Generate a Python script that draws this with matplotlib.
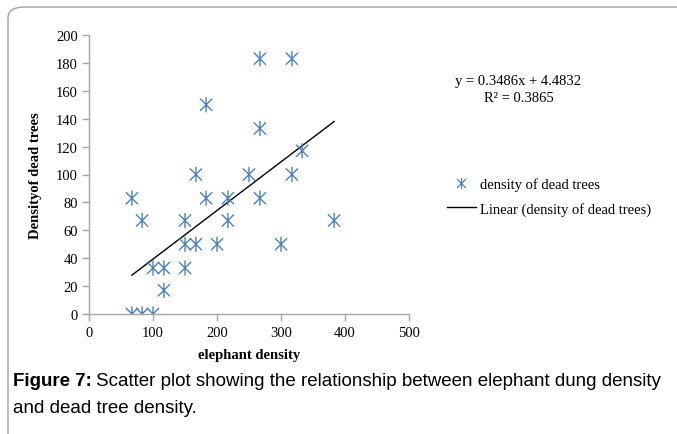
import numpy as np
import matplotlib
matplotlib.use('Agg')
from matplotlib import pyplot as plt
from matplotlib.path import Path
from matplotlib.lines import Line2D
from matplotlib.patches import FancyBboxPatch

# elephant density vs density of dead trees
elephant = [67, 83, 100, 67, 83, 100, 117, 117, 150, 150, 150, 167, 167, 183,
            183, 200, 217, 217, 250, 267, 267, 267, 300, 317, 317, 333, 383]
dead_trees = [0, 0, 0, 83, 67, 33, 33, 17, 67, 50, 33, 50, 100, 150,
              83, 50, 83, 67, 100, 183, 133, 83, 50, 183, 100, 117, 67]
slope, intercept = 0.3486, 4.4832
r2 = 0.3865

blue = '#4F81BD'
serif = 'Liberation Serif'
sans = 'Liberation Sans'

# star marker like excel (x plus vertical bar)
star = Path([(-1, -1), (1, 1), (-1, 1), (1, -1), (0, -1.25), (0, 1.25)],
            [Path.MOVETO, Path.LINETO, Path.MOVETO, Path.LINETO, Path.MOVETO, Path.LINETO])

fig = plt.figure(figsize=(6.77, 4.35), dpi=100)
ax = fig.add_axes([89 / 677, 1 - 315 / 435, 320 / 677, 279 / 435])

ax.scatter(elephant, dead_trees, marker=star, s=120, facecolors='none',
           edgecolors=blue, linewidths=1.0, zorder=3)

xs = np.array([min(elephant), max(elephant)])
ax.plot(xs, slope * xs + intercept, color='black', lw=1.0, zorder=2)

ax.set_xlim(0, 500)
ax.set_ylim(0, 200)
ax.set_xticks(range(0, 501, 100))
ax.set_yticks(range(0, 201, 20))
for s in ['top', 'right']:
    ax.spines[s].set_visible(False)
for s in ['left', 'bottom']:
    ax.spines[s].set_color('#A6A6A6')
    ax.spines[s].set_linewidth(1.0)
ax.tick_params(colors='#A6A6A6', length=5, width=1.0, labelcolor='black', labelsize=10.5)
for lab in ax.get_xticklabels() + ax.get_yticklabels():
    lab.set_fontfamily(serif)
ax.tick_params(axis='x', pad=4)
ax.tick_params(axis='y', pad=3)

ax.set_xlabel('elephant density', fontfamily=serif, fontweight='bold', fontsize=10.5, labelpad=6)
ax.set_ylabel('Densityof dead trees', fontfamily=serif, fontweight='bold', fontsize=10.5, labelpad=10)

# trendline equation
fig.text(518 / 677, 1 - 82 / 435, 'y = 0.3486x + 4.4832', ha='center', va='center',
         fontfamily=serif, fontsize=10.5)
fig.text(519 / 677, 1 - 99 / 435, 'R² = {:.4f}'.format(r2), ha='center', va='center',
         fontfamily=serif, fontsize=10.5)

# legend
handles = [Line2D([], [], ls='none', marker=star, ms=8, mfc='none', mec=blue, mew=0.9),
           Line2D([], [], color='black', lw=1.0)]
leg = fig.legend(handles, ['density of dead trees', 'Linear (density of dead trees)'],
                 loc='upper left', bbox_to_anchor=(441 / 677, 1 - 172 / 435), frameon=False,
                 prop={'family': serif, 'size': 10.5}, handlelength=2.0, handletextpad=0.25,
                 labelspacing=0.75, borderaxespad=0)

# caption
t1 = fig.text(13 / 677, 1 - 382 / 435, 'Figure 7:', ha='left', va='center',
              fontfamily=sans, fontweight='bold', fontsize=13.5)
fig.canvas.draw()
bb = t1.get_window_extent()
fig.text((bb.x1 + 4) / 677, 1 - 382 / 435,
         'Scatter plot showing the relationship between elephant dung density',
         ha='left', va='center', fontfamily=sans, fontsize=13.5)
fig.text(13 / 677, 1 - 409 / 435, 'and dead tree density.', ha='left', va='center',
         fontfamily=sans, fontsize=13.5)

# rounded frame around the chart
frame = FancyBboxPatch((8 / 677, -0.2), 1.2, 1 - 8 / 435 + 0.2,
                       boxstyle='round,pad=0,rounding_size=0.025',
                       transform=fig.transFigure, fill=False, ec='#A0A0A0', lw=1.0,
                       clip_on=False)
fig.patches.append(frame)

fig.savefig('out.png', dpi=100)
